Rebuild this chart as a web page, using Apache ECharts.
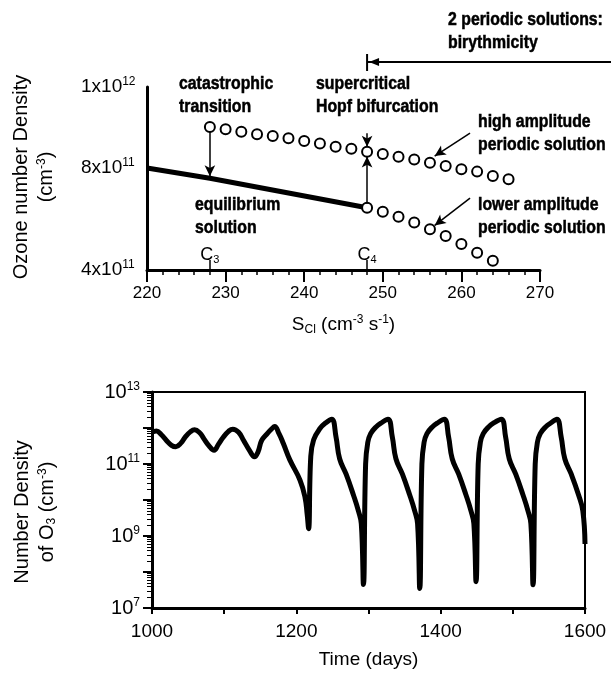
<!DOCTYPE html>
<html>
<head>
<meta charset="utf-8">
<script src="https://cdn.jsdelivr.net/npm/echarts@6/dist/echarts.min.js"></script>
<style>
  html, body { margin: 0; padding: 0; background: #fff; }
  #chart { width: 611px; height: 678px; }
</style>
</head>
<body>
<div id="chart"></div>
<script>
const REG = "'Liberation Sans', Arial, sans-serif"

// ---- top panel: O3 number density vs S_Cl ----
const eqS = [220, 228, 248]
const eqN = [8.0e11, 7.6e11, 6.44e11]
const highS = [228, 230, 232, 234, 236, 238, 240, 242, 244, 246, 248, 250, 252, 254, 256, 258, 260, 262, 264, 266]
const highN = [9.61e11, 9.52e11, 9.42e11, 9.33e11, 9.26e11, 9.17e11, 9.06e11, 8.96e11, 8.84e11, 8.76e11,
  8.64e11, 8.55e11, 8.44e11, 8.34e11, 8.21e11, 8.08e11, 7.95e11, 7.86e11, 7.69e11, 7.56e11]
const lowS = [248, 250, 252, 254, 256, 258, 260, 262, 264]
const lowN = [6.44e11, 6.29e11, 6.09e11, 5.86e11, 5.6e11, 5.33e11, 5.02e11, 4.68e11, 4.36e11]
const topYMax = 11.18e11
const topYTicks = [4e11, 8e11, topYMax]
const topYText = ['{b|4x10}{s|11}', '{b|8x10}{s|11}', '{b|1x10}{s|12}']
const cMarks = [228, 248]
const cText = ['{b|C}{d|3}', '{b|C}{d|4}']

// ---- bottom panel: O3 vs time ----
const days = [1000, 1006, 1013, 1020, 1027, 1033, 1040, 1046, 1053, 1059, 1066, 1072, 1079, 1086, 1092, 1099,
  1106, 1112, 1120, 1127, 1135, 1142, 1147, 1152, 1160, 1166, 1170,
  1176, 1182, 1191, 1205, 1212, 1215, 1217, 1220, 1224, 1233, 1241, 1249,
  1255, 1260, 1269, 1279, 1286, 1290, 1293, 1296, 1299, 1303, 1310, 1318, 1327,
  1333, 1338, 1347, 1357, 1364, 1368, 1371, 1374, 1377, 1381, 1388, 1396, 1405,
  1411, 1416, 1425, 1435, 1442, 1446, 1449, 1452, 1455, 1459, 1466, 1474, 1484,
  1490, 1495, 1504, 1514, 1521, 1525, 1528, 1531, 1534, 1538, 1545, 1553, 1561,
  1567, 1572, 1581, 1591, 1597, 1600]
const density = [7.6e11, 8.3e11, 6.5e11, 4.5e11, 3.3e11, 3.0e11, 3.8e11, 5.6e11, 7.8e11, 8.9e11, 7.4e11, 5.0e11, 3.2e11, 2.4e11, 3.5e11, 5.6e11,
  8.1e11, 9.3e11, 7.6e11, 4.5e11, 2.4e11, 1.6e11, 2.2e11, 4.5e11, 7.1e11, 9.5e11, 1.1e12,
  7.0e11, 3.7e11, 1.3e11, 3.6e10, 1.2e10, 4e9, 1.6e9, 1.6e11, 4.7e11, 9.8e11, 1.4e12, 1.75e12,
  5.6e11, 1.4e11, 5.2e10, 1.4e10, 5e9, 2.2e9, 4.5e7, 1e11, 4e11, 7e11, 1.05e12, 1.4e12, 1.75e12,
  5.6e11, 1.4e11, 5.2e10, 1.4e10, 5e9, 2.2e9, 3.5e7, 1e11, 4e11, 7e11, 1.05e12, 1.4e12, 1.75e12,
  5.6e11, 1.4e11, 5.2e10, 1.4e10, 5e9, 2.2e9, 5.4e7, 1e11, 4e11, 7e11, 1.05e12, 1.4e12, 1.75e12,
  5.6e11, 1.4e11, 5.2e10, 1.4e10, 5e9, 2.2e9, 4.4e7, 1e11, 4e11, 7e11, 1.05e12, 1.4e12, 1.75e12,
  5.6e11, 1.4e11, 5.2e10, 1.4e10, 5e9, 6e8]
const logMin = 1e7
const logMax = 1e13
// minor ticks at 2..9 x 10^n
const minorLog = []
for (let e = 7; e < 13; e++) {
  for (let k = 2; k < 10; k++) minorLog.push(k * Math.pow(10, e))
}

const zip = (a, b) => a.map((v, i) => [v, b[i]])

const richTick = (size) => ({
  b: { fontSize: size, fontFamily: REG, color: '#000' },
  s: { fontSize: Math.round(size * 0.62), fontFamily: REG, color: '#000', padding: [0, 0, Math.round(size * 0.55), 0] },
  d: { fontSize: Math.round(size * 0.62), fontFamily: REG, color: '#000', padding: [Math.round(size * 0.45), 0, 0, 0] }
})

const chart = echarts.init(document.getElementById('chart'))

const arrowLine = (x1, y1, x2, y2) => [{ coord: [x1, y1] }, { coord: [x2, y2] }]

chart.setOption({
  animation: false,
  backgroundColor: '#fff',
  grid: [
    { left: 147, top: 87, width: 393, height: 183 },
    { left: 152, top: 392, width: 433, height: 216, show: true, borderColor: '#000', borderWidth: 2 }
  ],
  xAxis: [
    {
      gridIndex: 0, type: 'value', min: 220, max: 270, interval: 10,
      axisLine: { lineStyle: { color: '#000', width: 3 } },
      axisTick: { length: 12, lineStyle: { color: '#000', width: 2 } },
      minorTick: { show: true, splitNumber: 5, length: 5, lineStyle: { color: '#000', width: 1.5 } },
      splitLine: { show: false },
      axisLabel: { color: '#000', fontSize: 17, fontFamily: REG, margin: 15 },
      name: '{b|S}{d|Cl}{b| (cm}{s|-3}{b| s}{s|-1}{b|)}',
      nameLocation: 'middle', nameGap: 44,
      nameTextStyle: { rich: richTick(19) }
    },
    {
      gridIndex: 0, type: 'value', min: 220, max: 270, position: 'bottom',
      axisLine: { show: false },
      axisTick: { show: true, inside: true, length: 10, customValues: cMarks, lineStyle: { color: '#000', width: 1.5 } },
      axisLabel: {
        inside: true, margin: 5, customValues: cMarks,
        formatter: (v) => cText[cMarks.indexOf(v)],
        rich: richTick(18)
      },
      splitLine: { show: false }
    },
    {
      gridIndex: 1, type: 'value', min: 1000, max: 1600, interval: 100,
      axisLine: { onZero: false, lineStyle: { color: '#000', width: 3 } },
      axisTick: { length: 6, lineStyle: { color: '#000', width: 2 } },
      splitLine: { show: false },
      axisLabel: {
        color: '#000', fontSize: 19, fontFamily: REG, margin: 14,
        formatter: (v) => (v % 200 === 0 ? String(v) : '')
      },
      name: 'Time (days)', nameLocation: 'middle', nameGap: 42,
      nameTextStyle: { color: '#000', fontSize: 19, fontFamily: REG }
    }
  ],
  yAxis: [
    {
      gridIndex: 0, type: 'value', min: 4e11, max: topYMax,
      axisLine: { show: true, lineStyle: { color: '#000', width: 3 } },
      axisTick: { show: false },
      splitLine: { show: false },
      axisLabel: {
        customValues: topYTicks, align: 'left', margin: 66,
        formatter: (v) => topYText[topYTicks.indexOf(v)],
        rich: richTick(19)
      }
    },
    {
      gridIndex: 1, type: 'log', logBase: 10, min: logMin, max: logMax, interval: 1,
      position: 'left',
      axisLine: { show: true, onZero: false, lineStyle: { color: '#000', width: 3 } },
      axisTick: { length: 9, lineStyle: { color: '#000', width: 2 } },
      splitLine: { show: false },
      axisLabel: {
        margin: 12,
        formatter: (v) => {
          const e = Math.round(Math.log10(v))
          return e % 2 === 1 ? '{b|10}{s|' + e + '}' : ''
        },
        rich: richTick(20)
      }
    },
    {
      gridIndex: 1, type: 'log', logBase: 10, min: logMin, max: logMax,
      position: 'left', offset: 0,
      axisLine: { show: false, onZero: false },
      axisTick: { show: true, length: 5, customValues: minorLog, lineStyle: { color: '#000', width: 1 } },
      axisLabel: { show: false },
      splitLine: { show: false }
    }
  ],
  series: [
    {
      type: 'line', xAxisIndex: 0, yAxisIndex: 0, data: zip(eqS, eqN),
      showSymbol: false, lineStyle: { color: '#000', width: 5 }, z: 2
    },
    {
      type: 'line', xAxisIndex: 0, yAxisIndex: 0, data: zip(highS, highN),
      symbol: 'circle', symbolSize: 10, lineStyle: { width: 0 },
      itemStyle: { color: '#fff', borderColor: '#000', borderWidth: 2 }, z: 4,
      markLine: {
        silent: true, symbol: ['none', 'arrow'], symbolSize: [8, 11],
        lineStyle: { color: '#000', width: 1.5, type: 'solid' },
        label: { show: false },
        data: [
          arrowLine(228, 9.45e11, 228, 7.68e11),
          arrowLine(248, 9.37e11, 248, 8.84e11),
          arrowLine(248, 6.6e11, 248, 8.45e11),
          arrowLine(261.1, 9.37e11, 256.6, 8.47e11),
          arrowLine(261.1, 6.82e11, 256.6, 5.75e11)
        ]
      }
    },
    {
      type: 'line', xAxisIndex: 0, yAxisIndex: 0, data: zip(lowS, lowN),
      symbol: 'circle', symbolSize: 10, lineStyle: { width: 0 },
      itemStyle: { color: '#fff', borderColor: '#000', borderWidth: 2 }, z: 4
    },
    {
      type: 'line', xAxisIndex: 2, yAxisIndex: 1, data: zip(days, density),
      showSymbol: false, smooth: 0.45,
      lineStyle: { color: '#000', width: 5 }
    }
  ]
})

// annotations
const c4 = chart.convertToPixel({ gridIndex: 0 }, [248, 4e11])[0]
const boldFont = 'bold 18px ' + REG
const note = (x, y, text) => ({
  type: 'text', x: x, y: y, scaleX: 0.88,
  style: {
    text: text, font: boldFont, fill: '#000', stroke: '#000', lineWidth: 0.5,
    verticalAlign: 'middle', lineHeight: 23
  }
})
const ytitle = (x, y, text) => ({
  type: 'text', x: x, y: y, rotation: Math.PI / 2,
  style: {
    text: text, fill: '#000', align: 'center', verticalAlign: 'middle',
    rich: {
      b: { fontSize: 20, fontFamily: REG, lineHeight: 25 },
      s: { fontSize: 12, fontFamily: REG, padding: [0, 0, 10, 0] },
      d: { fontSize: 12, fontFamily: REG, padding: [8, 0, 0, 0] }
    }
  }
})

chart.setOption({
  graphic: [
    note(448, 32, '2 periodic solutions:\nbirythmicity'),
    note(179, 96, 'catastrophic\ntransition'),
    note(316, 96, 'supercritical\nHopf bifurcation'),
    note(478, 134, 'high amplitude\nperiodic solution'),
    note(478, 217, 'lower amplitude\nperiodic solution'),
    note(195, 217, 'equilibrium\nsolution'),
    { type: 'line', shape: { x1: c4, y1: 62, x2: 611, y2: 62 }, style: { stroke: '#000', lineWidth: 2 } },
    { type: 'line', shape: { x1: c4, y1: 54, x2: c4, y2: 71 }, style: { stroke: '#000', lineWidth: 2 } },
    { type: 'polygon', shape: { points: [[c4 + 2, 62], [c4 + 12, 58], [c4 + 12, 66]] }, style: { fill: '#000' } },
    ytitle(34, 177, '{b|Ozone number Density}\n{b|(cm}{s|-3}{b|)}'),
    ytitle(35, 512, '{b|Number Density}\n{b|of O}{d|3}{b| (cm}{s|-3}{b|)}')
  ]
})
</script>
</body>
</html>
